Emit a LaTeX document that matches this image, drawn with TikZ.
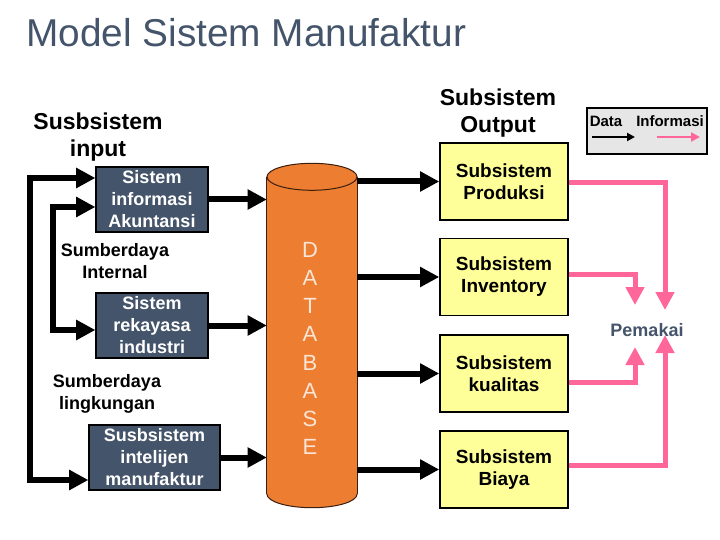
\documentclass[tikz,border=0pt]{standalone}
\usepackage{fontspec}
\setmainfont{Liberation Sans}
\usetikzlibrary{arrows.meta}
\definecolor{slate}{RGB}{68,84,106}
\definecolor{outyellow}{RGB}{255,255,153}
\definecolor{dborange}{RGB}{237,125,49}
\definecolor{dbedge}{RGB}{60,30,15}
\definecolor{dbtext}{RGB}{251,229,214}
\definecolor{infopink}{RGB}{255,102,153}
\definecolor{legendgray}{RGB}{231,230,230}

\begin{document}
\begin{tikzpicture}[x=1pt,y=-1pt,>={Triangle[length=0pt 3.2,width=0pt 3.2]},
	inbox/.style={draw=black,line width=1.2pt,fill=slate,text=white,font=\fontsize{18}{22}\selectfont\bfseries,align=center,inner sep=0pt,minimum height=65pt},
	outbox/.style={draw=black,line width=1.5pt,fill=outyellow,font=\fontsize{19}{22}\selectfont\bfseries,align=center,minimum width=128pt,minimum height=77pt,inner sep=0pt},
	lbl/.style={font=\fontsize{18}{22}\selectfont\bfseries,align=center},
	head/.style={font=\fontsize{23}{27}\selectfont\bfseries,align=center},
	dataarrow/.style={line width=6pt},
	infoarrow/.style={draw=infopink,line width=5pt,-{Triangle[length=0pt 3.6,width=0pt 3.6]}}]
		\fill[white] (0,0) rectangle (720,540);
		\useasboundingbox (0,0) rectangle (720,540);
		\node[anchor=base west,font=\fontsize{38.8}{44}\selectfont,text=slate,inner sep=0pt] (title) at (26,47) {Model Sistem Manufaktur};
		\node[head] (inlbl) at (98,137) {Susbsistem\\input};
		\node[head] (outlbl) at (498,113) {Subsistem\\Output};

		\node[inbox,minimum width=112pt] (akt) at (152,199.5) {Sistem\\informasi\\Akuntansi};
		\node[inbox,minimum width=112pt] (rek) at (152,325.5) {Sistem\\rekayasa\\industri};
		\node[inbox,minimum width=131pt] (intel) at (154.5,457.5) {Susbsistem\\intelijen\\manufaktur};
		\node[lbl] (internal) at (115,261) {Sumberdaya\\Internal};
		\node[lbl] (lingk) at (107,394) {Sumberdaya\\lingkungan};

		\node[minimum width=90pt,minimum height=317pt,inner sep=0pt] (db) at (312,335.5) {};
		\draw[dbedge,fill=dborange,line width=1pt] (db.south) ellipse (45pt and 13.5pt);
		\fill[dborange] (db.north west) rectangle (db.south east);
		\draw[dbedge,line width=1pt] (db.north west) -- (db.south west);
		\draw[dbedge,line width=1pt] (db.north east) -- (db.south east);
		\draw[dbedge,fill=dborange,line width=1pt] (db.north) ellipse (45pt and 13.5pt);
		\node[font=\fontsize{22}{28.2}\selectfont,text=dbtext,align=center] (dbname) at (310,348.5) {D\\A\\T\\A\\B\\A\\S\\E};

		\node[outbox] (prod) at (504,181.5) {Subsistem\\Produksi};
		\node[outbox] (inv) at (504,277) {Subsistem\\Inventory};
		\node[outbox] (kual) at (504,373.5) {Subsistem\\kualitas};
		\node[outbox] (biaya) at (504,469.5) {Subsistem\\Biaya};
		\node[lbl,text=slate] (user) at (647,330) {Pemakai};

		\coordinate (o1) at (30,178);
		\coordinate (o2) at (30,480);
		\coordinate (i1) at (53,207);
		\coordinate (i2) at (53,330);
		\draw[dataarrow,<->] (akt.west |- o1) -- (o1) -- (o2) -- (intel.west |- o2);
		\draw[dataarrow,<->] (akt.west |- i1) -- (i1) -- (i2) -- (rek.west |- i2);
		\foreach \b in {akt,rek,intel}{
			\draw[dataarrow,->] (\b.east) -- (\b.east -| db.west);
		}
		\foreach \b in {prod,inv,kual,biaya}{
			\draw[dataarrow,->] (db.east |- \b.west) -- (\b.west);
		}

		\coordinate (p1) at (665,310);
		\coordinate (p2) at (635,305);
		\coordinate (p3) at (635,347);
		\coordinate (p4) at (665,335);
		\draw[infoarrow] ([yshift=-1.5pt]prod.east) -| (p1);
		\draw[infoarrow] ([yshift=3pt]inv.east) -| (p2);
		\draw[infoarrow] ([yshift=-8.5pt]kual.east) -| (p3);
		\draw[infoarrow] ([yshift=4.5pt]biaya.east) -| (p4);

		\node[draw=black,line width=1.5pt,fill=legendgray,minimum width=120pt,minimum height=46pt] (legend) at (647,131) {};
		\node[font=\fontsize{15}{17}\selectfont\bfseries] (ldata) at (606,121) {Data};
		\node[font=\fontsize{15}{17}\selectfont\bfseries] (linfo) at (670,121) {Informasi};
		\coordinate (d1) at (592,137);
		\coordinate (d2) at (635,137);
		\coordinate (f1) at (657,137);
		\coordinate (f2) at (700,137);
		\draw[line width=2.5pt,->] (d1) -- (d2);
		\draw[infoarrow,line width=2.5pt] (f1) -- (f2);
\end{tikzpicture}
\end{document}
